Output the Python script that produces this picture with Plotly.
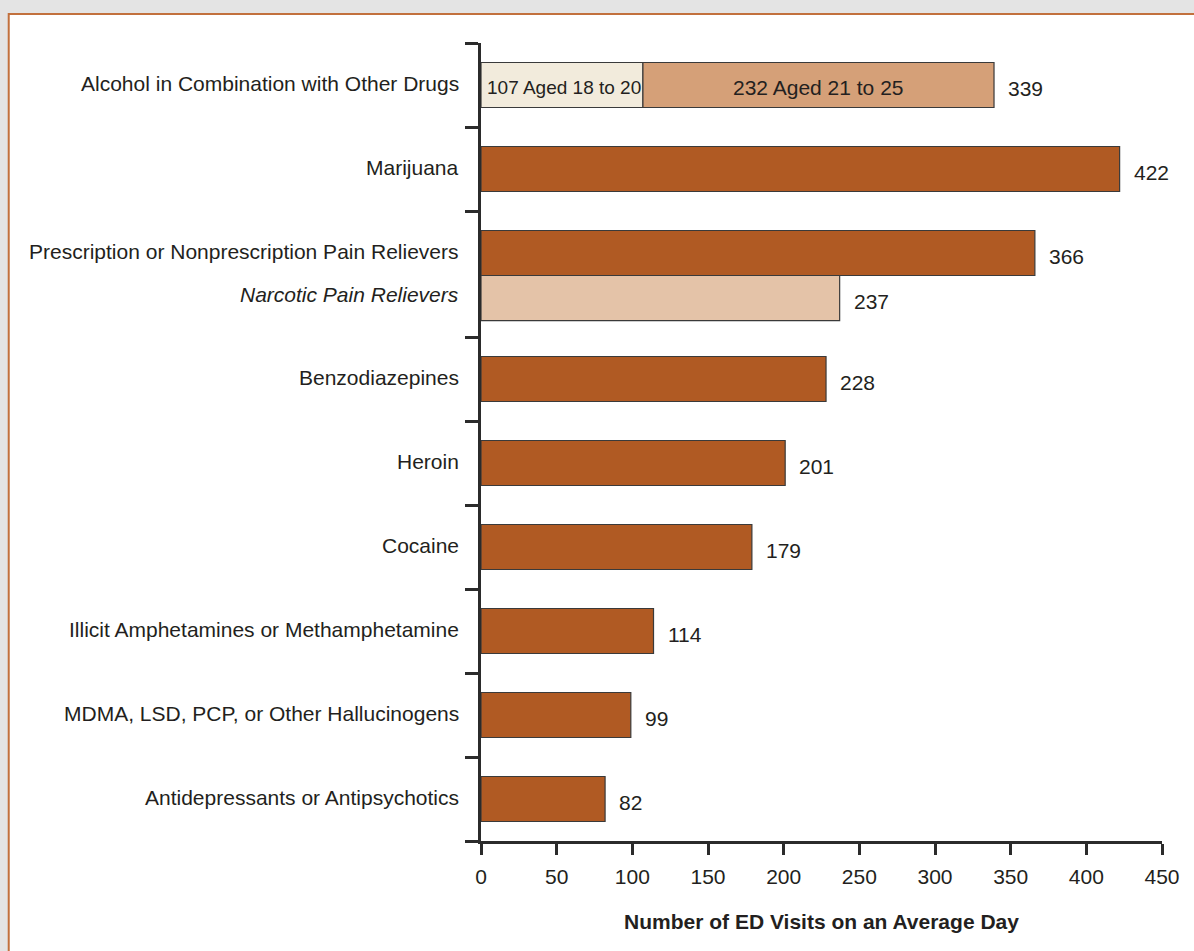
import plotly.graph_objects as go

# ---- data -------------------------------------------------------------
categories = [
    "Alcohol in Combination with Other Drugs",
    "Marijuana",
    "Prescription or Nonprescription Pain Relievers",
    "Benzodiazepines",
    "Heroin",
    "Cocaine",
    "Illicit Amphetamines or Methamphetamine",
    "MDMA, LSD, PCP, or Other Hallucinogens",
    "Antidepressants or Antipsychotics",
]
visits = [339, 422, 366, 228, 201, 179, 114, 99, 82]

sub_parent = "Prescription or Nonprescription Pain Relievers"
sub_category = "Narcotic Pain Relievers"
sub_visits = 237

alcohol_age_groups = ["Aged 18 to 20", "Aged 21 to 25"]
alcohol_age_visits = [107, 232]

x_ticks = [0, 50, 100, 150, 200, 250, 300, 350, 400, 450]
x_title = "Number of ED Visits on an Average Day"

# ---- styling ----------------------------------------------------------
FONT = "Liberation Sans, Arial, Helvetica, sans-serif"
TEXT = "#231f20"
AXIS = "#2b2b2b"
DARK = "#b05a23"
SUB = "#e4c3a8"
AGE_COLORS = ["#f2ebdc", "#d5a078"]
OUTLINE = dict(color="#3a3a3a", width=1.2)
BAR_W = 0.536          # bar thickness in row units
SUB_GAP = 0.5          # extra room taken by the sub-category row
LABEL_SIZE = 21

# ---- row layout (row units, top = 0) ----------------------------------
centers, boundaries = [], [0.0]
top = 0.0
for cat in categories:
    centers.append(top + 0.5)
    top += 1.0 + (SUB_GAP if cat == sub_parent else 0.0)
    boundaries.append(top)
sub_center = centers[categories.index(sub_parent)] + BAR_W
y_max = boundaries[-1]

fig = go.Figure()

# main single-colour bars (all except the stacked alcohol row)
fig.add_trace(go.Bar(
    orientation="h",
    x=visits[1:], y=centers[1:], width=BAR_W,
    marker=dict(color=DARK, line=OUTLINE),
    hoverinfo="skip", showlegend=False,
))

# sub-category bar
fig.add_trace(go.Bar(
    orientation="h",
    x=[sub_visits], y=[sub_center], width=BAR_W,
    marker=dict(color=SUB, line=OUTLINE),
    hoverinfo="skip", showlegend=False,
))

# alcohol row split by age group
base = 0
for grp, val, col in zip(alcohol_age_groups, alcohol_age_visits, AGE_COLORS):
    fig.add_trace(go.Bar(
        orientation="h",
        x=[val], base=[base], y=[centers[0]], width=BAR_W,
        marker=dict(color=col, line=OUTLINE),
        hoverinfo="skip", showlegend=False, name=grp,
    ))
    base += val

annotations = []

# category labels left of the axis
for cat, yc in zip(categories, centers):
    annotations.append(dict(
        x=0, y=yc, xref="x", yref="y", text=cat, showarrow=False,
        xanchor="right", yanchor="middle", xshift=-20, yshift=2,
        font=dict(family=FONT, size=LABEL_SIZE, color=TEXT),
    ))
annotations.append(dict(
    x=0, y=sub_center, xref="x", yref="y", text=f"<i>{sub_category}</i>",
    showarrow=False, xanchor="right", yanchor="middle", xshift=-20, yshift=4,
    font=dict(family=FONT, size=LABEL_SIZE, color=TEXT),
))

# value labels right of each bar
for val, yc in zip(visits, centers):
    annotations.append(dict(
        x=val, y=yc, xref="x", yref="y", text=str(val), showarrow=False,
        xanchor="left", yanchor="middle", xshift=12, yshift=-3,
        font=dict(family=FONT, size=LABEL_SIZE, color=TEXT),
    ))
annotations.append(dict(
    x=sub_visits, y=sub_center, xref="x", yref="y", text=str(sub_visits),
    showarrow=False, xanchor="left", yanchor="middle", xshift=12, yshift=-3,
    font=dict(family=FONT, size=LABEL_SIZE, color=TEXT),
))

# age-group labels inside the alcohol bar
annotations.append(dict(
    x=0, y=centers[0], xref="x", yref="y",
    text=f"{alcohol_age_visits[0]} {alcohol_age_groups[0]}",
    showarrow=False, xanchor="left", yanchor="middle", xshift=4, yshift=-2,
    font=dict(family=FONT, size=19, color=TEXT),
))
annotations.append(dict(
    x=alcohol_age_visits[0] + alcohol_age_visits[1] / 2, y=centers[0],
    xref="x", yref="y",
    text=f"{alcohol_age_visits[1]} {alcohol_age_groups[1]}",
    showarrow=False, xanchor="center", yanchor="middle", yshift=-2,
    font=dict(family=FONT, size=LABEL_SIZE, color=TEXT),
))

shapes = [
    # white panel with a thin orange frame
    dict(type="rect", xref="paper", yref="paper",
         x0=-0.6935, x1=1.06, y0=-0.16, y1=1.0363,
         fillcolor="white", line=dict(color="#c2703d", width=2),
         layer="below"),
]

fig.update_layout(
    width=1194, height=951,
    margin=dict(l=481, r=32, t=43, b=110),
    paper_bgcolor="#e4e4e4",
    plot_bgcolor="rgba(0,0,0,0)",
    barmode="overlay",
    annotations=annotations,
    shapes=shapes,
    font=dict(family=FONT, color=TEXT),
    xaxis=dict(
        range=[0, 450], tickvals=x_ticks, ticktext=[str(t) for t in x_ticks],
        showgrid=False, zeroline=False,
        showline=True, linecolor=AXIS, linewidth=2.5,
        ticks="outside", ticklen=11, tickwidth=2.5, tickcolor=AXIS,
        ticklabelstandoff=4,
        tickfont=dict(family=FONT, size=LABEL_SIZE, color=TEXT),
        title=dict(text=f"<b>{x_title}</b>", standoff=28,
                   font=dict(family=FONT, size=21, color=TEXT)),
        fixedrange=True,
    ),
    yaxis=dict(
        range=[y_max, 0], tickvals=boundaries, showticklabels=False,
        showgrid=False, zeroline=False,
        showline=True, linecolor=AXIS, linewidth=2.5,
        ticks="outside", ticklen=13, tickwidth=2.5, tickcolor=AXIS,
        fixedrange=True,
    ),
)

fig.write_html("out.html")
